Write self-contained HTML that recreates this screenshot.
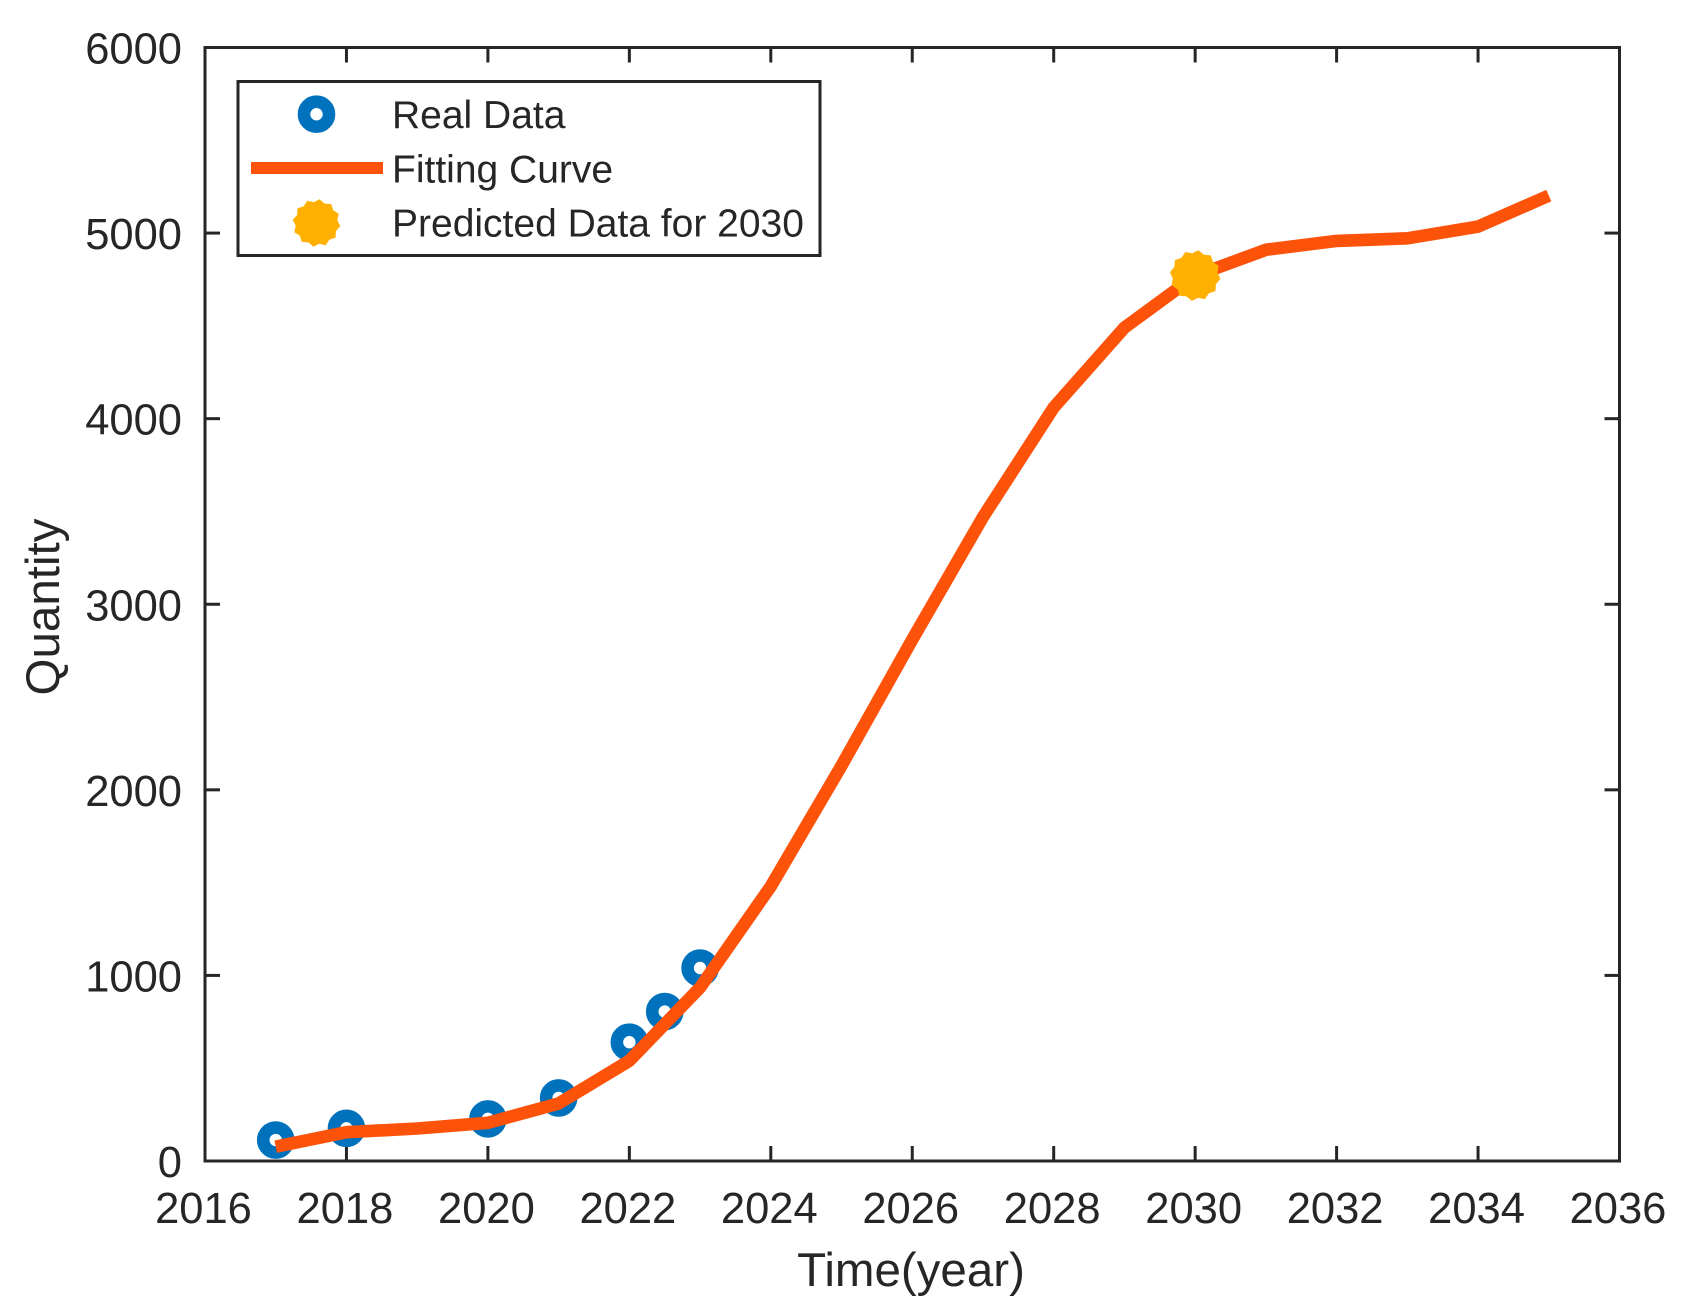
<!DOCTYPE html>
<html lang="en">
<head>
<meta charset="utf-8">
<title>Quantity over time</title>
<style>
html,body{margin:0;padding:0;background:#fff;}
svg{display:block;}
text{font-family:"Liberation Sans",Arial,sans-serif;fill:#262626;}
</style>
</head>
<body>
<svg id="chart" xmlns="http://www.w3.org/2000/svg" width="1691" height="1314" viewBox="0 0 1691 1314">
  <rect x="0" y="0" width="1691" height="1314" fill="#fff"/>
  <g id="ticks"></g>
  <g id="xlabels"></g>
  <g id="ylabels"></g>
  <g id="real-series"></g>
  <path id="fit-line" fill="none" stroke="#FC520A" stroke-width="12.6" stroke-linejoin="round"/>
  <g id="pred-series"></g>
  <rect id="axes-box" fill="none" stroke="#262626" stroke-width="3"/>
  <text x="911" y="1286" font-size="47.5" text-anchor="middle">Time(year)</text>
  <text transform="translate(59,607) rotate(-90)" font-size="47.5" text-anchor="middle">Quantity</text>
  <g>
    <rect x="238" y="81.5" width="582" height="174" fill="#fff" stroke="#262626" stroke-width="3"/>
    <circle cx="316.5" cy="114.2" r="12.5" fill="none" stroke="#0072BD" stroke-width="12.6"/>
    <text x="392" y="128" font-size="39">Real Data</text>
    <line x1="251" y1="168" x2="383" y2="168" stroke="#FC520A" stroke-width="12"/>
    <text x="392" y="182.5" font-size="39">Fitting Curve</text>
    <polygon id="legend-star" fill="#FFB000"/>
    <text x="392" y="236.5" font-size="39">Predicted Data for 2030</text>
  </g>
</svg>
<script>
const xTickValues = [2016, 2018, 2020, 2022, 2024, 2026, 2028, 2030, 2032, 2034, 2036];
const yTickValues = [0, 1000, 2000, 3000, 4000, 5000, 6000];
const realYears = [2017, 2018, 2020, 2021, 2022, 2022.5, 2023];
const realValues = [113, 176, 227, 340, 640, 805, 1040];
const fitYears = [2017, 2018, 2019, 2020, 2021, 2022, 2023, 2024, 2025, 2026, 2027, 2028, 2029, 2030, 2031, 2032, 2033, 2034, 2035];
const fitValues = [77, 155, 175, 206, 310, 540, 935, 1480, 2130, 2810, 3470, 4060, 4490, 4770, 4910, 4958, 4972, 5035, 5202];
const predictedYears = [2030];
const predictedValues = [4771];

const NS = 'http://www.w3.org/2000/svg';
const plotLeft = 205, plotRight = 1619.5, plotTop = 47.5, plotBottom = 1161;
const xMin = 2016, xMax = 2036, yMin = 0, yMax = 6000;
function xScale(v) { return plotLeft + (v - xMin) / (xMax - xMin) * (plotRight - plotLeft); }
function yScale(v) { return plotBottom - (v - yMin) / (yMax - yMin) * (plotBottom - plotTop); }
function make(tag, attrs) {
  const el = document.createElementNS(NS, tag);
  for (const k in attrs) el.setAttribute(k, attrs[k]);
  return el;
}
function starPoints(cx, cy, outer, inner, n) {
  const pts = [];
  for (let i = 0; i < n * 2; i++) {
    const r = i % 2 ? inner : outer;
    const a = Math.PI * i / n + Math.PI / n / 2;
    pts.push((cx + r * Math.cos(a)).toFixed(1) + ',' + (cy + r * Math.sin(a)).toFixed(1));
  }
  return pts.join(' ');
}

const box = document.getElementById('axes-box');
box.setAttribute('x', plotLeft);
box.setAttribute('y', plotTop);
box.setAttribute('width', plotRight - plotLeft);
box.setAttribute('height', plotBottom - plotTop);

const ticks = document.getElementById('ticks');
const xLabels = document.getElementById('xlabels');
const yLabels = document.getElementById('ylabels');
const tickLen = 15;

xTickValues.forEach(function (v) {
  const x = xScale(v);
  const bottomTick = make('line', { x1: x, x2: x, y1: plotBottom, y2: plotBottom - tickLen, stroke: '#262626', 'stroke-width': 3 });
  
  
  ticks.appendChild(bottomTick);
  const topTick = make('line', { x1: x, x2: x, y1: plotTop, y2: plotTop + tickLen, stroke: '#262626', 'stroke-width': 3 });
  
  
  ticks.appendChild(topTick);
  const label = make('text', { x: x - 1.5, y: 1223, 'font-size': 43.5, 'text-anchor': 'middle' });
  
  
  label.textContent = String(v);
  xLabels.appendChild(label);
});

yTickValues.forEach(function (v) {
  const y = yScale(v);
  const leftTick = make('line', { x1: plotLeft, x2: plotLeft + tickLen, y1: y, y2: y, stroke: '#262626', 'stroke-width': 3 });
  
  
  ticks.appendChild(leftTick);
  const rightTick = make('line', { x1: plotRight, x2: plotRight - tickLen, y1: y, y2: y, stroke: '#262626', 'stroke-width': 3 });
  
  
  ticks.appendChild(rightTick);
  const label = make('text', { x: 182, y: y + 16, 'font-size': 43.5, 'text-anchor': 'end' });
  
  
  label.textContent = String(v);
  yLabels.appendChild(label);
});

const realGroup = document.getElementById('real-series');
realYears.forEach(function (yr, i) {
  const point = make('circle', { cx: xScale(yr), cy: yScale(realValues[i]), r: 12.5, fill: 'none', stroke: '#0072BD', 'stroke-width': 12.6 });
  
  
  realGroup.appendChild(point);
});

document.getElementById('fit-line').setAttribute('d', fitYears.map(function (yr, i) {
  return (i ? 'L' : 'M') + xScale(yr).toFixed(1) + ' ' + yScale(fitValues[i]).toFixed(1);
}).join(' '));

const predGroup = document.getElementById('pred-series');
predictedYears.forEach(function (yr, i) {
  const star = make('polygon', { points: starPoints(xScale(yr), yScale(predictedValues[i]), 25.5, 22.5, 12), fill: '#FFB000' });
  
  
  predGroup.appendChild(star);
});

document.getElementById('legend-star').setAttribute('points', starPoints(316.5, 223, 24, 21, 12));
</script>
</body>
</html>
